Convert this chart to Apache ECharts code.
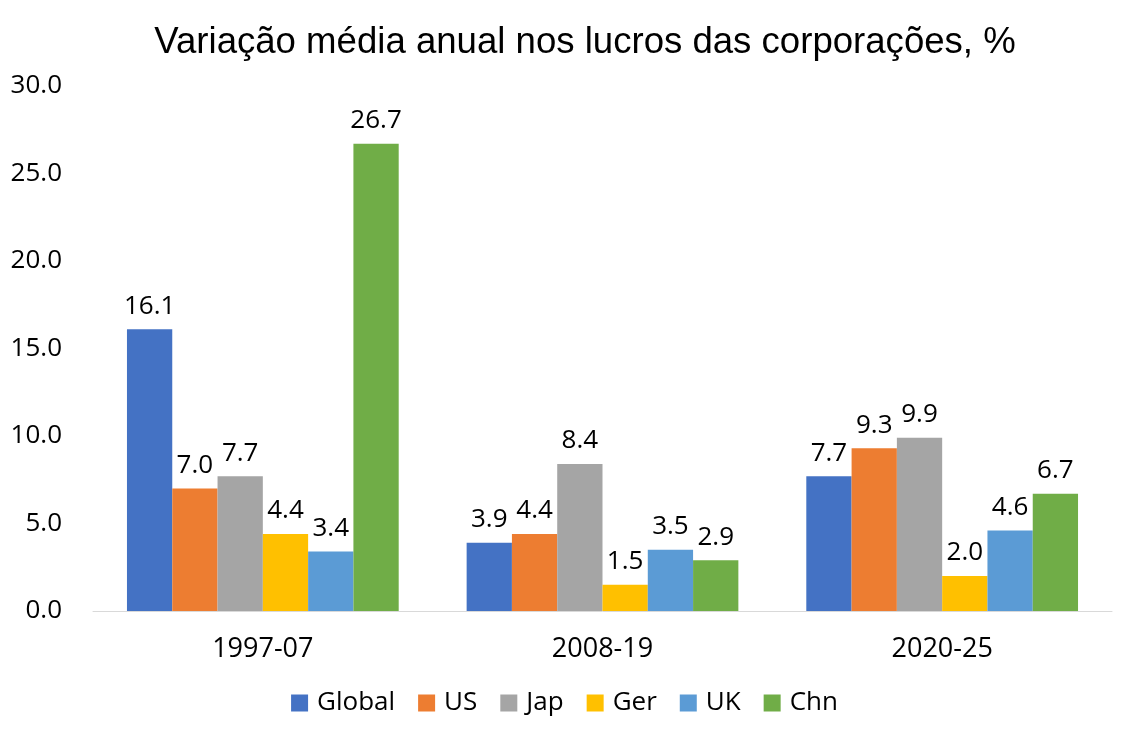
<!DOCTYPE html>
<html><head><meta charset="utf-8">
<script src="https://cdn.jsdelivr.net/npm/echarts@6/dist/echarts.min.js"></script>
<style>html,body{margin:0;padding:0;background:#fff}#c{width:1129px;height:735px}</style>
</head><body><div id="c"></div>
<script>
const categories = ['1997-07', '2008-19', '2020-25'];
const seriesNames = ['Global', 'US', 'Jap', 'Ger', 'UK', 'Chn'];
const Global = [16.1, 3.9, 7.7];
const US = [7.0, 4.4, 9.3];
const Jap = [7.7, 8.4, 9.9];
const Ger = [4.4, 1.5, 2.0];
const UK = [3.4, 3.5, 4.6];
const Chn = [26.7, 2.9, 6.7];
const colors = ['#4472C4', '#ED7D31', '#A5A5A5', '#FFC000', '#5B9BD5', '#70AD47'];
const values = [Global, US, Jap, Ger, UK, Chn];
const font = "'Open Sans', 'Noto Sans', sans-serif";
const chart = echarts.init(document.getElementById('c'), null, {renderer: 'canvas'});
chart.setOption({
  animation: false,
  color: colors,
  title: {
    text: 'Variação média anual nos lucros das corporações, %',
    left: 580, textAlign: 'center', top: 19,
    textStyle: {fontFamily: "'Liberation Sans', Arial, sans-serif", fontSize: 36.6, fontWeight: 'normal', color: '#000'}
  },
  legend: {
    bottom: 14, left: 'center', itemWidth: 17, itemHeight: 17, itemGap: 23,
    icon: 'rect',
    textStyle: {fontFamily: font, fontSize: 26, color: '#000', padding: [0, 0, 0, 4]},
    data: seriesNames
  },
  grid: {left: 93, right: 17, top: 86, bottom: 124, containLabel: false},
  xAxis: {
    type: 'category', data: categories,
    axisLine: {lineStyle: {color: '#D9D9D9', width: 1}},
    axisTick: {show: false},
    axisLabel: {fontFamily: font, fontSize: 27, color: '#000', margin: 25}
  },
  yAxis: {
    type: 'value', min: 0, max: 30, interval: 5,
    splitLine: {show: false},
    axisLine: {show: false}, axisTick: {show: false},
    axisLabel: {fontFamily: font, fontSize: 26, color: '#000', margin: 31,
      formatter: v => v.toFixed(1)}
  },
  series: seriesNames.map((n, i) => ({
    name: n, type: 'bar', data: values[i],
    barGap: '0%', barCategoryGap: '20%',
    label: {show: true, position: 'top', distance: 10, fontFamily: font, fontSize: 26, color: '#000',
      formatter: p => p.value.toFixed(1)}
  }))
});
</script></body></html>
